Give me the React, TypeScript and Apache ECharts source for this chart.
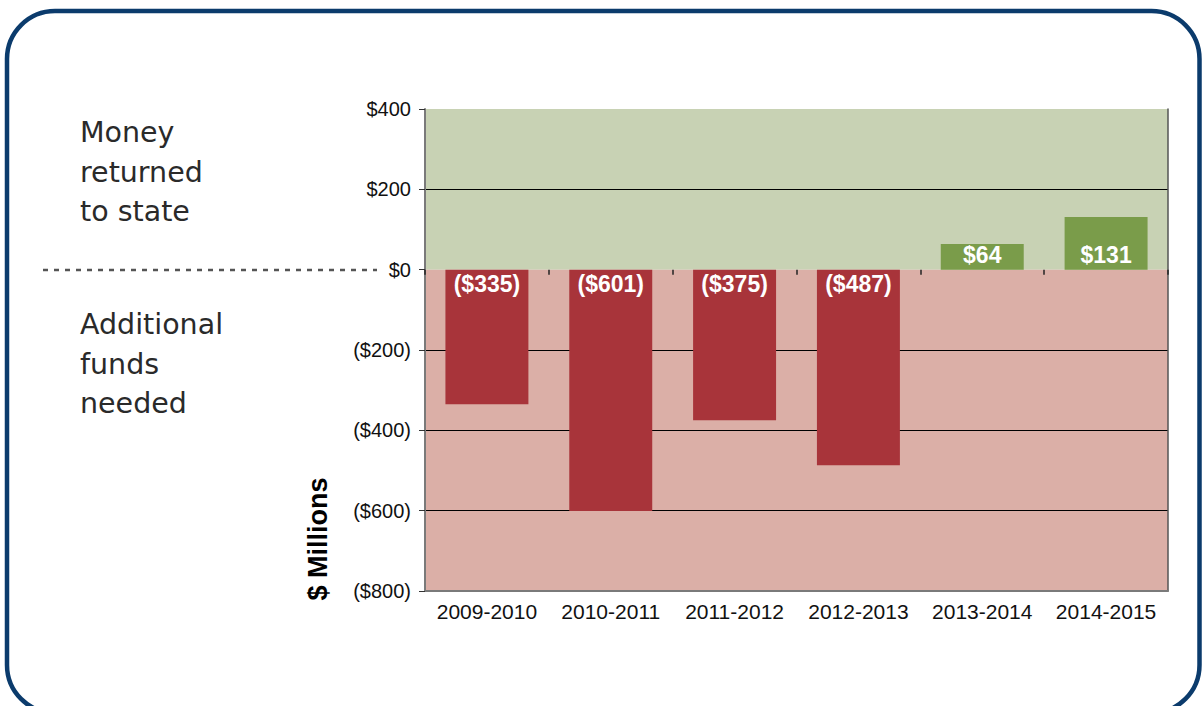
import React, { useEffect, useRef } from "react";
import * as echarts from "echarts";

const categories = ["2009-2010", "2010-2011", "2011-2012", "2012-2013", "2013-2014", "2014-2015"];
const values = [-335, -601, -375, -487, 64, 131];
const gridLineValues = [200, -200, -400, -600];
const yMin = -800;
const yMax = 400;
const yInterval = 200;
const upperNote = ["Money", "returned", "to state"];
const lowerNote = ["Additional", "funds", "needed"];
const axisTitle = "$ Millions";

const FONT = "'Liberation Sans', Arial, sans-serif";
const NOTE_FONT = "'DejaVu Sans', sans-serif";
const RED = "#a8343a";
const GREEN = "#7a9c4a";
const GREEN_BG = "#c8d2b4";
const PINK_BG = "#dbafa7";

const fmt = (v: number) => (v < 0 ? `($${-v})` : `$${v}`);

export default function App() {
  const ref = useRef<HTMLDivElement>(null);

  useEffect(() => {
    if (!ref.current) return;
    const chart = echarts.init(ref.current, undefined, { renderer: "svg" });

    const noteText = (lines: string[], ys: number[]) =>
      lines.map((t, i) => ({
        type: "text",
        x: 80,
        y: ys[i],
        style: {
          text: t,
          fill: "#2a2a2a",
          fontSize: 28.5,
          fontFamily: NOTE_FONT,
          verticalAlign: "middle",
          align: "left",
        },
      }));

    const option: any = {
      animation: false,
      backgroundColor: "#ffffff",
      grid: { left: 425, top: 109, width: 743, height: 482, containLabel: false },
      xAxis: [
        {
          type: "category",
          data: categories,
          position: "bottom",
          z: 12,
          axisLine: { onZero: false, lineStyle: { color: "#7a7a7a", width: 2 } },
          axisTick: { show: false },
          axisLabel: { color: "#111", fontSize: 21, fontFamily: FONT, margin: 10, interval: 0 },
          splitLine: { show: false },
        },
        {
          type: "category",
          data: categories,
          position: "bottom",
          z: 12,
          axisLine: { show: false, onZero: true },
          axisTick: { show: true, length: 5, lineStyle: { color: "#222", width: 1.5 } },
          axisLabel: { show: false },
          splitLine: { show: false },
        },
      ],
      yAxis: [
        {
          type: "value",
          min: yMin,
          max: yMax,
          interval: yInterval,
          position: "left",
          z: 12,
          axisLine: { show: true, lineStyle: { color: "#7a7a7a", width: 2 } },
          axisTick: { show: true, length: 6, lineStyle: { color: "#333", width: 1 } },
          axisLabel: { formatter: fmt, color: "#111", fontSize: 20, fontFamily: FONT, margin: 14 },
          splitLine: { show: false },
        },
        {
          type: "value",
          min: yMin,
          max: yMax,
          interval: yInterval,
          position: "right",
          z: 12,
          axisLine: { show: true, lineStyle: { color: "#555", width: 1.5 } },
          axisTick: { show: false },
          axisLabel: { show: false },
          splitLine: { show: false },
        },
      ],
      series: [
        {
          type: "bar",
          xAxisIndex: 0,
          yAxisIndex: 0,
          barWidth: "67%",
          z: 10,
          data: values.map((v) => ({
            value: v,
            itemStyle: { color: v < 0 ? RED : GREEN },
            label: { position: v < 0 ? "insideTop" : "insideBottom" },
          })),
          label: {
            show: true,
            formatter: (p: any) => fmt(p.value),
            color: "#fff",
            fontWeight: "bold",
            fontSize: 23,
            fontFamily: FONT,
            distance: 3,
          },
          markArea: {
            silent: true,
            data: [
              [{ yAxis: 0, itemStyle: { color: GREEN_BG } }, { yAxis: yMax }],
              [{ yAxis: yMin, itemStyle: { color: PINK_BG } }, { yAxis: 0 }],
            ],
          },
          markLine: {
            silent: true,
            symbol: "none",
            label: { show: false },
            lineStyle: { color: "#000", type: "solid", width: 1 },
            data: gridLineValues.map((v) => ({ yAxis: v })),
          },
        },
      ],
      graphic: [
        {
          type: "rect",
          shape: { x: 7, y: 11, width: 1192.5, height: 702, r: 48 },
          style: { fill: "none", stroke: "#0b3b6c", lineWidth: 4.5 },
          z: 100,
        },
        {
          type: "line",
          shape: { x1: 43, y1: 270, x2: 377, y2: 270 },
          style: { stroke: "#555", lineWidth: 2.5, lineDash: [5, 6] },
        },
        ...noteText(upperNote, [132.5, 172, 211]),
        ...noteText(lowerNote, [324.5, 364, 403]),
        {
          type: "text",
          x: 318,
          y: 539,
          rotation: Math.PI / 2,
          style: {
            text: axisTitle,
            fill: "#000",
            fontSize: 27,
            fontWeight: "bold",
            fontFamily: FONT,
            align: "center",
            verticalAlign: "middle",
          },
        },
      ],
    };

    chart.setOption(option);
    return () => chart.dispose();
  }, []);

  return (
    <div
      ref={ref}
      style={{ position: "absolute", left: 0, top: 0, width: 1204, height: 706 }}
    />
  );
}
